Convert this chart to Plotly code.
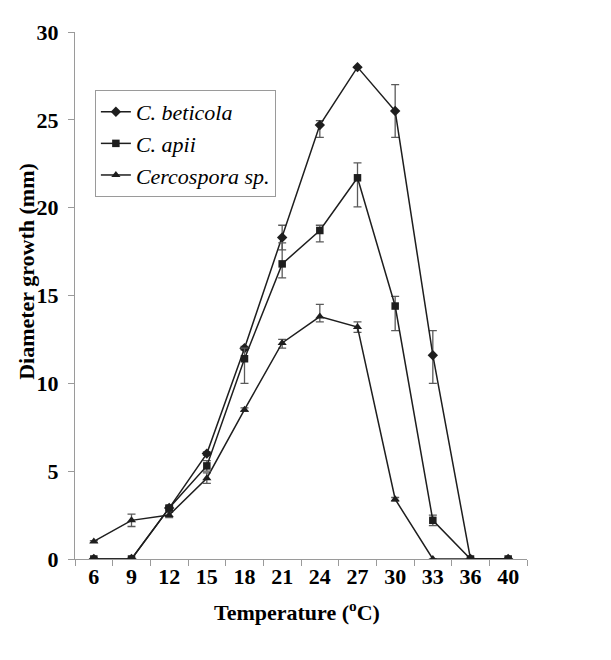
import plotly.graph_objects as go

temperatures = ["6", "9", "12", "15", "18", "21", "24", "27", "30", "33", "36", "40"]

beticola = [0, 0, 2.9, 6.0, 12.0, 18.3, 24.7, 28.0, 25.5, 11.6, 0, 0]
beticola_err_plus = [0, 0, 0.1, 0.1, 0.1, 0.7, 0.25, 0, 1.5, 1.4, 0, 0]
beticola_err_minus = [0, 0, 0.1, 0.1, 0.1, 0.7, 0.7, 0, 1.5, 1.6, 0, 0]

apii = [0, 0, 2.9, 5.3, 11.4, 16.8, 18.7, 21.7, 14.4, 2.2, 0, 0]
apii_err_plus = [0, 0, 0.15, 0.3, 0.6, 1.2, 0.3, 0.85, 0.55, 0.3, 0, 0]
apii_err_minus = [0, 0, 0.15, 0.3, 1.4, 0.8, 0.65, 1.65, 1.4, 0.3, 0, 0]

cercospora = [1.0, 2.2, 2.5, 4.6, 8.5, 12.3, 13.8, 13.2, 3.4, 0, 0, 0]
cercospora_err_plus = [0.05, 0.35, 0.15, 0.3, 0.1, 0.2, 0.7, 0.3, 0.1, 0, 0, 0]
cercospora_err_minus = [0.05, 0.35, 0.15, 0.3, 0.1, 0.3, 0.3, 0.3, 0.1, 0, 0, 0]

FONT = "Liberation Serif, Times New Roman, serif"
LINE = "#1e1e1e"
ERR = "#5a5a5a"
AXIS = "#9a9a9a"

fig = go.Figure()

def add(name, y, ep, em, symbol, size, rank):
    fig.add_trace(go.Scatter(
        x=temperatures, y=y, name=name, mode="lines+markers",
        line=dict(color=LINE, width=1.5),
        marker=dict(symbol=symbol, size=size, color=LINE, line=dict(width=0)),
        error_y=dict(type="data", array=ep, arrayminus=em, symmetric=False,
                     color=ERR, thickness=1.3, width=4),
        legendrank=rank,
    ))

add("C. beticola", beticola, beticola_err_plus, beticola_err_minus, "diamond", 8, 1)
add("Cercospora sp.", cercospora, cercospora_err_plus, cercospora_err_minus, "triangle-up", 8, 3)
add("C. apii", apii, apii_err_plus, apii_err_minus, "square", 7.5, 2)

fig.update_layout(
    width=611, height=660,
    margin=dict(l=67, r=92, t=13, b=109),
    paper_bgcolor="white", plot_bgcolor="white",
    font=dict(family=FONT, color="black"),
    showlegend=True,
    legend=dict(
        x=0.044, y=0.890, xanchor="left", yanchor="top",
        bgcolor="white", bordercolor=AXIS, borderwidth=1,
        font=dict(family=FONT, size=22, style="italic", color="black"),
        itemwidth=30,
    ),
    xaxis=dict(
        type="category", range=[-0.5, 11.5],
        tickson="boundaries", ticks="outside", ticklen=6, tickcolor=AXIS,
        showline=True, linecolor=AXIS, linewidth=1,
        showgrid=False, zeroline=False,
        tickfont=dict(family=FONT, size=22, weight="bold", color="black"),
        ticklabelstandoff=-2,
    ),
    yaxis=dict(
        range=[0, 30], tickvals=[0, 5, 10, 15, 20, 25, 30],
        ticks="outside", ticklen=6, tickcolor=AXIS,
        showline=True, linecolor=AXIS, linewidth=1,
        showgrid=False, zeroline=False,
        tickfont=dict(family=FONT, size=22, weight="bold", color="black"),
        ticklabelstandoff=5,
    ),
    annotations=[
        dict(text="Temperature (<sup>o</sup>C)", xref="paper", yref="paper",
             x=0.491, y=-0.099, xanchor="center", yanchor="middle", showarrow=False,
             font=dict(family=FONT, size=22, weight="bold", color="black")),
        dict(text="Diameter growth (mm)", xref="paper", yref="paper",
             x=-0.106, y=0.545, xanchor="center", yanchor="middle", showarrow=False,
             textangle=-90,
             font=dict(family=FONT, size=22, weight="bold", color="black")),
    ],
)

fig.write_html("out.html")
